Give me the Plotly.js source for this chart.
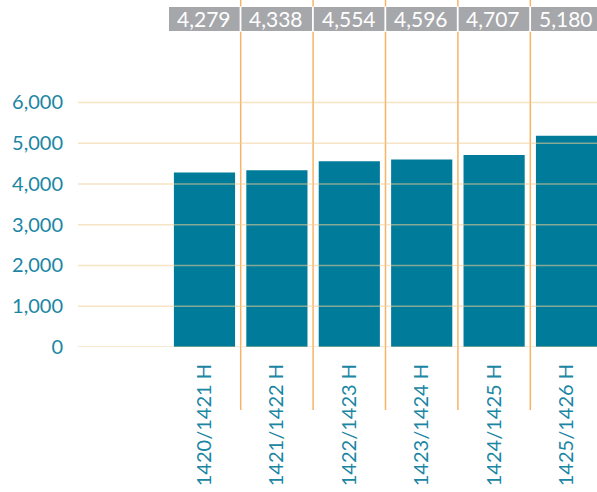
<!DOCTYPE html>
<html>
<head>
<meta charset="utf-8">
<script src="https://cdn.plot.ly/plotly-3.0.1.min.js"></script>
<style>
  html, body { margin: 0; padding: 0; background: #fff; }
  #graph { width: 597px; height: 492px; }
</style>
</head>
<body>
<div id="graph"></div>
<script>
// data
const years = ["1420/1421 H", "1421/1422 H", "1422/1423 H", "1423/1424 H", "1424/1425 H", "1425/1426 H"];
const values = [4279, 4338, 4554, 4596, 4707, 5180];
const yTicks = [0, 1000, 2000, 3000, 4000, 5000, 6000];

const TEAL = "#007c9a";
const LABEL = "#1a86a4";
const ORANGE = "#f8b466";
const GRID = "rgba(240,205,150,0.55)";
const HEADER = "#a6a7ab";

const idx = years.map((_, i) => i);

const fmt = v => v.toLocaleString("en-US");

const shapes = [];
const annotations = [];

// orange separators between categories
for (let i = 0; i < years.length - 1; i++) {
  shapes.push({
    type: "line", xref: "x", yref: "paper",
    x0: i + 0.5, x1: i + 0.5, y0: -0.238, y1: 1.19,
    line: { color: ORANGE, width: 1.5 }, layer: "above"
  });
  shapes.push({
    type: "line", xref: "x", yref: "paper",
    x0: i + 0.5, x1: i + 0.5, y0: 1.285, y1: 1.32,
    line: { color: ORANGE, width: 1.5 }, layer: "above"
  });
}

// gridlines drawn over the bars
yTicks.forEach(t => {
  shapes.push({
    type: "line", xref: "paper", yref: "y",
    x0: 0, x1: 1, y0: t, y1: t,
    line: { color: GRID, width: 1.5 }, layer: "above"
  });
});

// grey header with the values
values.forEach((v, i) => {
  shapes.push({
    type: "rect", xref: "x", yref: "paper",
    x0: i - 0.49, x1: i + 0.485, y0: 1.1925, y1: 1.283,
    fillcolor: HEADER, line: { width: 0 }, layer: "below"
  });
  annotations.push({
    xref: "x", yref: "paper", x: i - 0.01, y: 1.238,
    xanchor: "center", yanchor: "middle",
    text: fmt(v), showarrow: false,
    font: { color: "#ffffff", size: 21, family: "Lato, sans-serif" }
  });
});

const trace = {
  type: "bar",
  x: idx,
  y: values,
  width: 0.845,
  marker: { color: TEAL },
  hoverinfo: "skip"
};

const layout = {
  width: 597,
  height: 492,
  margin: { l: 78, r: 0, t: 82, b: 145 },
  paper_bgcolor: "#ffffff",
  plot_bgcolor: "#ffffff",
  showlegend: false,
  font: { family: "Lato, sans-serif", color: LABEL },
  xaxis: {
    range: [-1.747, 5.421],
    tickvals: idx,
    ticktext: years,
    tickangle: -90,
    ticks: "",
    ticklabelstandoff: 12,
    showgrid: false,
    zeroline: false,
    showline: false,
    tickfont: { size: 20, color: LABEL }
  },
  yaxis: {
    range: [0, 6500],
    tickvals: yTicks,
    ticktext: yTicks.map(fmt),
    ticks: "",
    ticklabelstandoff: 14,
    showgrid: false,
    zeroline: false,
    showline: false,
    tickfont: { size: 20, color: LABEL }
  },
  shapes: shapes,
  annotations: annotations
};

Plotly.newPlot("graph", [trace], layout, { displayModeBar: false, staticPlot: true });
</script>
</body>
</html>
